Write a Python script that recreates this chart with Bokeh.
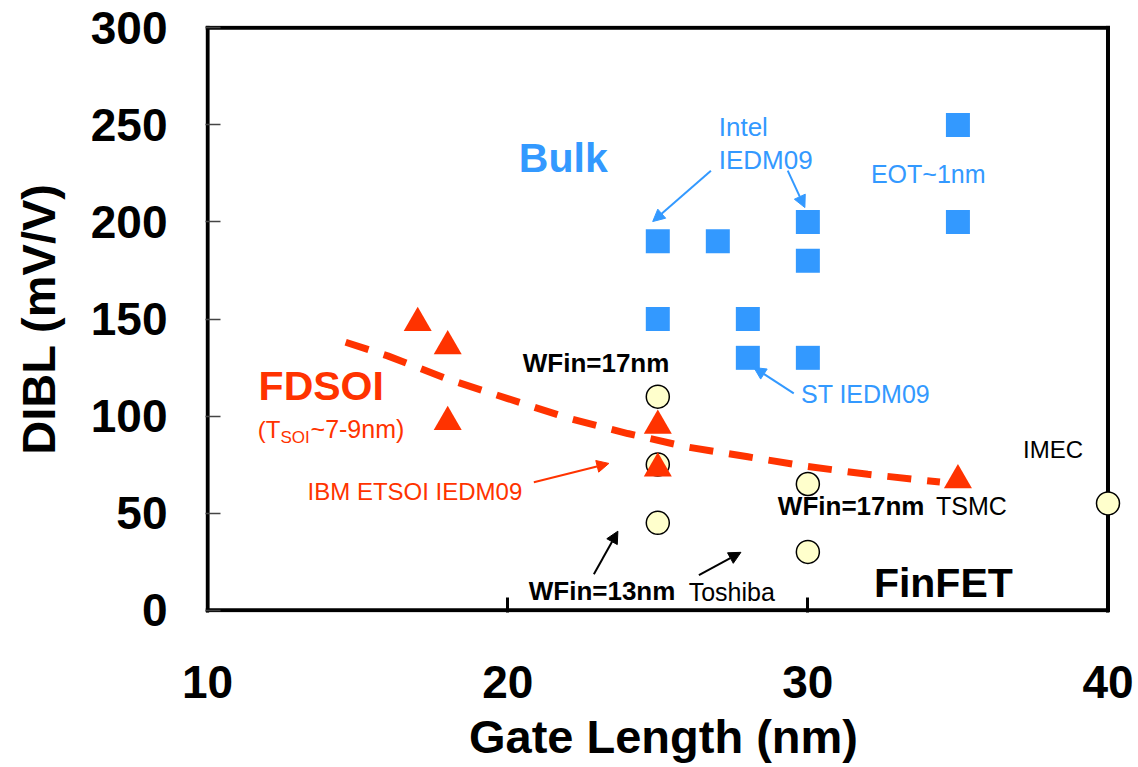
from bokeh.plotting import figure
from bokeh.models import Range1d, FixedTicker, Label, Arrow, NormalHead
from bokeh.embed import file_html
from bokeh.resources import INLINE

# ---------------- data ----------------
bulk_x = [25, 27, 30, 30, 25, 28, 28, 30, 35, 35]
bulk_y = [190, 190, 200, 180, 150, 150, 130, 130, 250, 200]

fdsoi_x = [17, 18, 18, 25, 25, 35]
fdsoi_y = [148, 136, 97, 95, 73, 67]

finfet_x = [25, 25, 25, 30, 30, 40]
finfet_y = [110, 75, 45, 65, 30, 55]

trend_x = [14.6, 16, 18, 20, 22, 24, 26, 28, 30, 32, 34.4]
trend_y = [138, 131, 119, 109, 99, 91, 84, 79, 74, 70, 66]

x_ticks = [10, 20, 30, 40]
y_ticks = [0, 50, 100, 150, 200, 250, 300]

BLUE = "#3399FF"
RED = "#FF3300"
FONT = "Liberation Sans"

# text annotations: (text, x, y of baseline, font px, style, color)
labels = [
    ("Bulk", 20.37, 225.4, 41, "bold", BLUE),
    ("Intel", 27.03, 244.4, 26, "normal", BLUE),
    ("IEDM09", 27.03, 227.4, 26, "normal", BLUE),
    ("EOT~1nm", 32.1, 220.2, 25, "normal", BLUE),
    ("ST IEDM09", 29.77, 107.0, 25, "normal", BLUE),
    ("FDSOI", 11.7, 108.1, 41, "bold", RED),
    ("(T", 11.67, 89.0, 24, "normal", RED),
    ("SOI", 12.43, 85.9, 17, "normal", RED),
    ("~7-9nm)", 13.43, 89.0, 25, "normal", RED),
    ("IBM ETSOI IEDM09", 13.33, 56.6, 24, "normal", RED),
    ("WFin=17nm", 20.5, 122.5, 26, "bold", "black"),
    ("WFin=17nm", 29.0, 48.9, 26, "bold", "black"),
    ("TSMC", 34.27, 48.9, 25, "normal", "black"),
    ("IMEC", 37.17, 78.2, 24, "normal", "black"),
    ("WFin=13nm", 20.7, 5.1, 26, "bold", "black"),
    ("Toshiba", 26.03, 5.1, 25, "normal", "black"),
    ("FinFET", 32.2, 6.7, 41, "bold", "black"),
]

# arrows: (x_start, y_start, x_end, y_end, color)
arrows = [
    (26.77, 226.4, 24.83, 200.2, BLUE),
    (29.33, 226.4, 29.90, 207.4, BLUE),
    (29.53, 111.7, 28.20, 125.0, BLUE),
    (20.87, 65.9, 23.37, 75.6, RED),
    (22.87, 18.5, 23.67, 40.7, "black"),
    (26.37, 18.0, 27.77, 29.8, "black"),
]

# ---------------- figure ----------------
PX_PER_Y = 587 / 302.4   # frame height / y span
p = figure(
    width=1138, height=767,
    x_range=Range1d(9.93, 40.45), y_range=Range1d(-1.2, 301.2),
    output_backend="svg", toolbar_location=None,
    min_border_left=205, min_border_right=17,
    min_border_top=25, min_border_bottom=155,
)
p.grid.visible = False
p.outline_line_color = None
p.background_fill_color = "white"
p.border_fill_color = "white"

# plot frame box (bottom, top, left, right edges), beneath the markers
x0, x1 = x_ticks[0], x_ticks[-1]
y0, y1 = y_ticks[0], y_ticks[-1]
p.segment(x0=[x0, x0, x0, x1], y0=[y0, y1, y0, y0],
          x1=[x1, x1, x0, x1], y1=[y0, y1, y1, y1],
          line_color="black", line_width=4, line_cap="square")

# axes
p.xaxis.ticker = FixedTicker(ticks=x_ticks)
p.yaxis.ticker = FixedTicker(ticks=y_ticks)
for ax in (p.xaxis, p.yaxis):
    ax.axis_line_color = None
    ax.minor_tick_line_color = None
    ax.major_tick_out = 0
    ax.major_tick_in = 15
    ax.major_label_text_font = FONT
    ax.major_label_text_font_style = "bold"
    ax.major_label_text_font_size = "46px"
    ax.major_label_text_color = "black"
    ax.axis_label_text_font = FONT
    ax.axis_label_text_font_style = "bold"
    ax.axis_label_text_font_size = "47px"
    ax.axis_label_text_color = "black"

p.xaxis.major_tick_line_color = "black"
p.xaxis.major_tick_line_width = 3
p.yaxis.major_tick_line_color = "#444444"
p.yaxis.major_tick_line_width = 1.5

p.xaxis.axis_label = "Gate Length (nm)"
p.yaxis.axis_label = "DIBL (mV/V)"
p.xaxis.major_label_standoff = 53
p.xaxis.axis_label_standoff = 9
p.yaxis.major_label_standoff = 38
p.yaxis.axis_label_standoff = 23

# glyphs
p.scatter(finfet_x, finfet_y, marker="circle", size=23,
          fill_color="#FFFFCC", line_color="black", line_width=1.5)
p.line(trend_x, trend_y, line_color=RED, line_width=7, line_dash="24 16")
p.scatter(fdsoi_x, fdsoi_y, marker="triangle", size=28,
          fill_color=RED, line_color=None)
p.scatter(bulk_x, bulk_y, marker="square", size=24,
          fill_color=BLUE, line_color=None)

for xs, ys, xe, ye, col in arrows:
    p.add_layout(Arrow(
        x_start=xs, y_start=ys, x_end=xe, y_end=ye,
        line_color=col, line_width=2,
        end=NormalHead(size=12, fill_color=col, line_color=col, line_width=1),
    ))

# Bokeh's label baseline sits a little lower than the nominal one; lift it
SHIFT = 0.35
for text, x, y, fs, style, col in labels:
    p.add_layout(Label(
        x=x, y=y + SHIFT * fs / PX_PER_Y, text=text, text_font=FONT,
        text_font_size=f"{fs}px", text_font_style=style, text_color=col,
        text_align="left", text_baseline="alphabetic",
    ))

open("out.html", "w").write(file_html(p, INLINE))
